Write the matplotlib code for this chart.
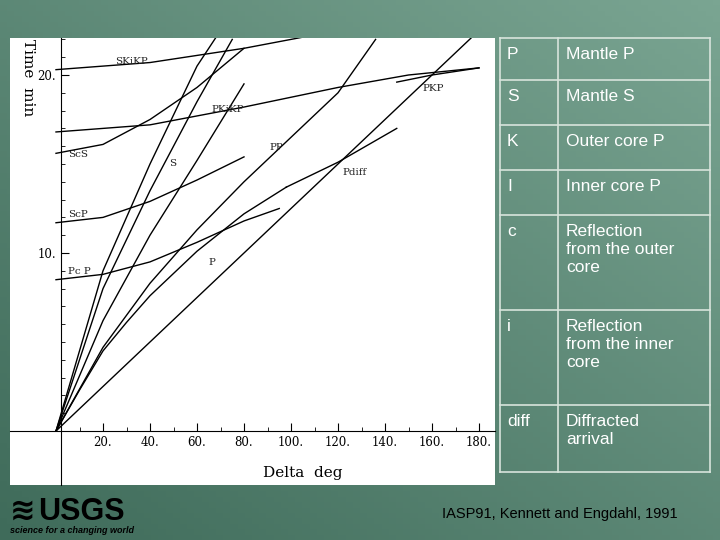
import numpy as np
import matplotlib
matplotlib.use("Agg")
import matplotlib.pyplot as plt
from matplotlib.colors import LinearSegmentedColormap

W, H = 720, 540
curves = {
    "P":      ([0, 10, 20, 30, 40, 60, 80, 98], [0, 2.3, 4.5, 6.1, 7.6, 10.1, 12.2, 13.7]),
    "Pdiff":  ([98, 120, 145], [13.7, 15.1, 17.0]),
    "PP":     ([0, 20, 40, 60, 80, 100, 120, 136], [0, 4.7, 8.3, 11.3, 14.0, 16.5, 19.0, 22.0]),
    "S":      ([0, 20, 40, 60, 75], [0, 8.0, 13.5, 18.5, 22.0]),
    "SS":     ([0, 20, 40, 60, 70], [0, 9.0, 15.0, 20.5, 22.5]),
    "PS":     ([0, 20, 40, 60, 80], [0, 6.2, 11.0, 15.2, 19.5]),
    "ScS":    ([0, 20, 40, 60, 80], [15.6, 16.1, 17.5, 19.3, 21.5]),
    "ScP":    ([0, 20, 40, 60, 80], [11.7, 12.0, 12.9, 14.1, 15.4]),
    "PcP":    ([0, 20, 40, 60, 80, 95], [8.5, 8.8, 9.5, 10.6, 11.8, 12.5]),
    "PKiKP":  ([0, 40, 80, 120, 150, 180], [16.8, 17.2, 18.2, 19.3, 20.0, 20.4]),
    "PKP":    ([145, 160, 180], [19.6, 20.0, 20.4]),
    "SKiKP":  ([0, 40, 80, 120], [20.3, 20.7, 21.5, 22.5]),
    "PKPab":  ([0, 60, 120, 180], [0, 7.5, 15.0, 22.5]),
}
labels = [("SKiKP", 25, 20.6), ("PKiKP", 66, 17.9), ("PKP", 156, 19.1), ("ScS", 5, 15.4),
          ("S", 48, 14.9), ("PP", 91, 15.8), ("Pdiff", 122, 14.4), ("ScP", 5, 12.0),
          ("Pc P", 5, 8.8), ("P", 65, 9.3)]
rows = [("P", "Mantle P"), ("S", "Mantle S"), ("K", "Outer core P"), ("I", "Inner core P"),
        ("c", "Reflection\nfrom the outer\ncore"), ("i", "Reflection\nfrom the inner\ncore"),
        ("diff", "Diffracted\narrival")]
row_lines = [38, 80, 125, 170, 215, 310, 405, 472]

fig = plt.figure(figsize=(7.2, 5.4), dpi=100)
bg = fig.add_axes([0, 0, 1, 1])
yy, xx = np.mgrid[0:1:100j, 0:1:100j]
grad = 0.5 * xx + 0.5 * (1 - yy)
cm = LinearSegmentedColormap.from_list("g", ["#3f6b5a", "#7aa592"])
bg.imshow(grad, cmap=cm, extent=[0, W, H, 0], aspect="auto")
bg.set_xlim(0, W); bg.set_ylim(H, 0); bg.axis("off")

def fa(x0, y0, x1, y1):
    return [x0 / W, 1 - y1 / H, (x1 - x0) / W, (y1 - y0) / H]

ax = fig.add_axes(fa(10, 38, 495, 485))
ax.set_facecolor("white")
ax.set_xlim((10 - 56) / 2.35, (495 - 56) / 2.35)
ax.set_ylim((431 - 485) / 17.8, (431 - 38) / 17.8)
for k, (x, y) in curves.items():
    ax.plot(x, y, color="black", lw=1.0)
for t, x, y in labels:
    ax.text(x, y, t, fontsize=7.5, family="DejaVu Serif", color="#222")
ax.spines["left"].set_position(("data", 2))
ax.spines["bottom"].set_position(("data", 0))
ax.spines["top"].set_visible(False); ax.spines["right"].set_visible(False)
ax.set_xticks([20, 40, 60, 80, 100, 120, 140, 160, 180])
ax.set_xticklabels(["20.", "40.", "60.", "80.", "100.", "120.", "140.", "160.", "180."],
                   family="DejaVu Serif", fontsize=8.5)
ax.set_xticks(np.arange(10, 181, 10), minor=True)
ax.set_yticks([10, 20]); ax.set_yticklabels(["10.", "20."], family="DejaVu Serif", fontsize=8.5)
ax.set_yticks(np.arange(1, 23), minor=True)
ax.tick_params(direction="in", length=6)
ax.tick_params(which="minor", direction="in", length=3)
ax.text(88, -2.6, "Delta  deg", family="DejaVu Serif", fontsize=11)
ax.text(-15, 22, "Time  min", family="DejaVu Serif", fontsize=11, rotation=-90, va="top")

for y in row_lines:
    bg.plot([500, 710], [y, y], color="#d8e4dc", lw=1.2)
for x in [500, 558, 710]:
    bg.plot([x, x], [38, 472], color="#d8e4dc", lw=1.2)
for i, (a, b) in enumerate(rows):
    y = row_lines[i] + 9
    bg.text(507, y, a, color="white", fontsize=12.5, family="Liberation Sans", va="top")
    bg.text(566, y, b, color="white", fontsize=12.5, family="Liberation Sans", va="top",
            linespacing=1.25)

bg.text(10, 520, "≋", fontsize=22, weight="bold", color="black", family=["DejaVu Sans"])
bg.text(38, 520, "USGS", fontsize=22, weight="bold", color="black", family="Liberation Sans")
bg.text(10, 533, "science for a changing world", fontsize=6.5, style="italic",
        weight="bold", color="black", family="Liberation Sans")
bg.text(560, 518, "IASP91, Kennett and Engdahl, 1991", fontsize=10.5, color="black",
        family="Liberation Sans", ha="center")
fig.savefig("out.png", dpi=100)
